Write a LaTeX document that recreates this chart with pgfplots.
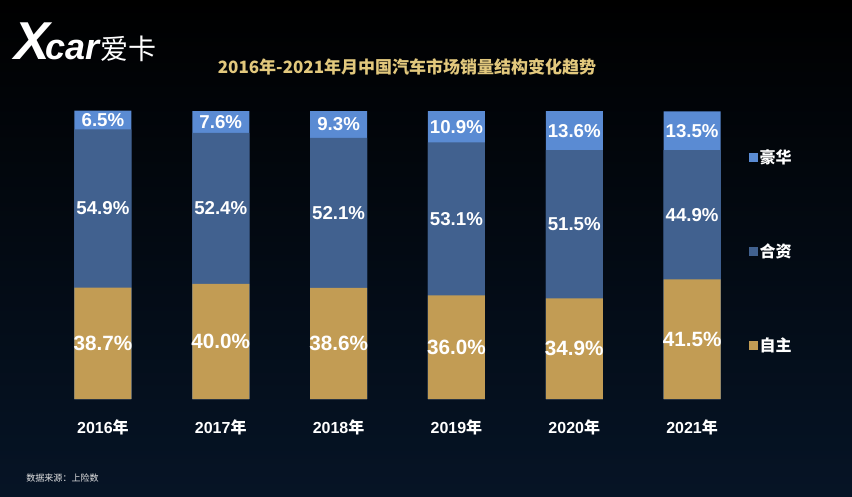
\documentclass[border=0pt]{standalone}
\usepackage{fontspec}
\setmainfont{Liberation Sans}
\newfontfamily\cjk{Noto Sans CJK SC}
\usepackage{pgfplots}
\usepackage{pgfplotstable}
\pgfplotsset{compat=1.18}

\definecolor{zzcol}{RGB}{194,156,84}
\definecolor{hzcol}{RGB}{65,97,143}
\definecolor{hhcol}{RGB}{90,139,211}
\definecolor{titlegold}{RGB}{226,200,125}
\definecolor{bgbottom}{RGB}{6,20,38}
\definecolor{bgmid}{RGB}{3,9,18}

\pgfplotstableread{
x  zz    hz    hh
0  38.7  54.9  6.5
1  40.0  52.4  7.6
2  38.6  52.1  9.3
3  36.0  53.1  10.9
4  34.9  51.5  13.6
5  41.5  44.9  13.5
}\datatable

\begin{document}
\begin{tikzpicture}
% background
\shade[top color=black, middle color=bgmid, bottom color=bgbottom] (0pt,0pt) rectangle (639pt,-372pt);

% logo
\node[anchor=west, text=white, inner sep=0pt] at (11pt,-31.5pt)
  {{\fontsize{40}{40}\selectfont\bfseries\itshape X}\kern-4pt{\fontsize{27}{27}\selectfont\bfseries\itshape car}\kern1pt{\cjk\fontsize{21}{21}\selectfont 爱卡}};

% title
\node[text=titlegold, font=\cjk\bfseries\fontsize{12.75}{14}\selectfont] at (305.25pt,-50.25pt)
  {2016年-2021年月中国汽车市场销量结构变化趋势};

% source
\node[anchor=west, text=white!80!gray, font=\cjk\fontsize{6.8}{8}\selectfont, inner sep=0pt] at (19.5pt,-358.5pt)
  {数据来源：上险数};

\begin{axis}[
  at={(33pt,-299.25pt)}, anchor=south west,
  scale only axis, width=530.25pt, height=216pt,
  xmin=-0.5, xmax=5.5, ymin=0, ymax=100,
  clip=false,
  axis line style={draw=none}, tick style={draw=none},
  ytick=\empty,
  xtick={0,1,2,3,4,5},
  xticklabels={{2016{\cjk 年}},{2017{\cjk 年}},{2018{\cjk 年}},{2019{\cjk 年}},{2020{\cjk 年}},{2021{\cjk 年}}},
  xticklabel style={anchor=center, yshift=-21pt, text=white, font=\bfseries\fontsize{12}{14}\selectfont},
  legend style={at={(0.9915,0.88)}, anchor=north west, draw=none, fill=none,
    text=white, font=\cjk\bfseries\fontsize{12}{14}\selectfont,
    row sep=56.5pt, nodes={inner sep=1pt, text height=10pt, text depth=2pt}},
  legend cell align=left,
  every node near coord/.append style={anchor=center, text=white},
]
% bars (cumulative heights from the three shares)
\addplot[ybar, bar width=42.75pt, bar shift=0pt, fill=hhcol, draw=none,
  legend image code/.code={\fill[hhcol] (0pt,-3.4pt) rectangle (6.8pt,3.4pt);}]
  table[x=x, y expr=\thisrow{zz}+\thisrow{hz}+\thisrow{hh}] {\datatable};
\addlegendentry{豪华}
\addplot[ybar, bar width=42.75pt, bar shift=0pt, fill=hzcol, draw=none,
  legend image code/.code={\fill[hzcol] (0pt,-3.4pt) rectangle (6.8pt,3.4pt);}]
  table[x=x, y expr=\thisrow{zz}+\thisrow{hz}] {\datatable};
\addlegendentry{合资}
\addplot[ybar, bar width=42.75pt, bar shift=0pt, fill=zzcol, draw=none,
  legend image code/.code={\fill[zzcol] (0pt,-3.4pt) rectangle (6.8pt,3.4pt);}]
  table[x=x, y=zz] {\datatable};
\addlegendentry{自主}

% labels at segment centres
\addplot[only marks, mark=none, point meta=explicit,
  nodes near coords={\pgfmathprintnumber[fixed,fixed zerofill,precision=1,assume math mode=true]{\pgfplotspointmeta}\%},
  every node near coord/.append style={font=\bfseries\fontsize{15.5}{16}\selectfont}]
  table[x=x, y expr=\thisrow{zz}/2, meta=zz] {\datatable};
\addplot[only marks, mark=none, point meta=explicit,
  nodes near coords={\pgfmathprintnumber[fixed,fixed zerofill,precision=1,assume math mode=true]{\pgfplotspointmeta}\%},
  every node near coord/.append style={font=\bfseries\fontsize{14}{15}\selectfont}]
  table[x=x, y expr=\thisrow{zz}+\thisrow{hz}/2, meta=hz] {\datatable};
\addplot[only marks, mark=none, point meta=explicit,
  nodes near coords={\pgfmathprintnumber[fixed,fixed zerofill,precision=1,assume math mode=true]{\pgfplotspointmeta}\%},
  every node near coord/.append style={font=\bfseries\fontsize{14}{15}\selectfont}]
  table[x=x, y expr=\thisrow{zz}+\thisrow{hz}+\thisrow{hh}/2, meta=hh] {\datatable};
\end{axis}
\end{tikzpicture}
\end{document}
